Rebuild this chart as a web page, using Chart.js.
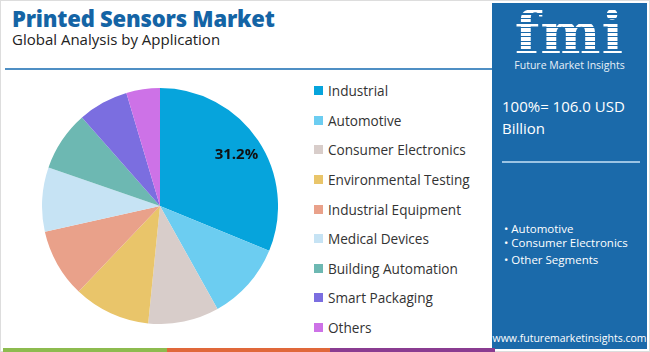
<!DOCTYPE html>
<html>
<head>
<meta charset="utf-8">
<script src="https://cdn.jsdelivr.net/npm/chart.js@4.4.1/dist/chart.umd.min.js"></script>
<style>
  html,body{margin:0;padding:0;}
  body{width:650px;height:352px;position:relative;overflow:hidden;background:#fff;font-family:"Open Sans",sans-serif;}
  #frame{position:absolute;left:0;top:0;width:648px;height:350px;border:1px solid #ddd;}
  #title{position:absolute;left:12px;top:3px;font-family:"Open Sans",sans-serif;font-weight:800;font-size:22px;color:#1464a5;letter-spacing:-0.2px;white-space:nowrap;}
  #subtitle{position:absolute;left:12px;top:29px;font-size:15px;color:#222;white-space:nowrap;}
  #hline{position:absolute;left:5px;top:68px;width:487px;height:2px;background:#4f8fc4;}
  #panel{position:absolute;left:492px;top:3px;width:155px;height:346px;background:#1b6aaa;color:#fff;}
  #logo{position:absolute;left:0;top:3px;width:155px;text-align:center;font-family:"DejaVu Serif",serif;font-weight:bold;font-size:57px;line-height:54px;color:#fff;letter-spacing:1px;
        background:repeating-linear-gradient(180deg,#fff 0 3px,#1b6aaa 3px 4.5px);-webkit-background-clip:text;background-clip:text;-webkit-text-fill-color:transparent;}
  #logosub{position:absolute;left:0;top:55px;width:155px;text-align:center;font-size:10.5px;color:#e8f0f8;}
  #total{position:absolute;left:10px;top:92px;font-size:15px;line-height:22px;color:#fff;}
  #pline{position:absolute;left:10px;top:158px;width:138px;height:2px;background:#9cc4e4;}
  #bullets{position:absolute;left:12px;top:219px;font-size:11.5px;line-height:14px;color:#fff;}
  #bullets div{margin-bottom:0;}
  #url{position:absolute;left:0;top:328px;width:155px;text-align:center;font-size:10.5px;color:#fff;}
  #chartbox{position:absolute;left:42px;top:88px;width:236px;height:236px;}
  #legend{position:absolute;left:314px;top:76px;font-size:13.6px;color:#333;}
  .li{height:29.6px;display:flex;align-items:center;white-space:nowrap;}
  .sw{width:9px;height:9px;margin-right:5px;}
  .bar{position:absolute;top:348px;height:4px;}
</style>
</head>
<body>
<div id="frame"></div>
<div id="title">Printed Sensors Market</div>
<div id="subtitle">Global Analysis by Application</div>
<div id="hline"></div>
<div id="chartbox"><canvas id="c" width="236" height="236"></canvas></div>
<div id="legend"></div>
<div id="panel">
  <div id="logo">fmi</div>
  <div id="logosub">Future Market Insights</div>
  <div id="total">100%= 106.0 USD<br>Billion</div>
  <div id="pline"></div>
  <div id="bullets">
    <div>• Automotive</div>
    <div>• Consumer Electronics</div>
    <div style="margin-top:3px">• Other Segments</div>
  </div>
  <div id="url">www.futuremarketinsights.com</div>
</div>
<div class="bar" style="left:3px;width:164px;background:#8dbb4f"></div>
<div class="bar" style="left:167px;width:163px;background:#e0683a"></div>
<div class="bar" style="left:330px;width:165px;background:#8a3c91"></div>
<script>
const categories = ["Industrial","Automotive","Consumer Electronics","Environmental Testing","Industrial Equipment","Medical Devices","Building Automation","Smart Packaging","Others"];
const shares = [31.2,10.7,9.7,10.5,9.4,8.8,8.2,6.9,4.6];
const colors = ["#06a4dc","#6ccdf1","#d8cdca","#e9c56a","#e9a18a","#c6e3f4","#6db8b2","#7b6ee0","#cd72e7"];
const labelled = ["31.2%","","","","","","","",""];

const legend = document.getElementById('legend');
categories.forEach((c,i)=>{
  const d=document.createElement('div');d.className='li';
  d.innerHTML='<span class="sw" style="background:'+colors[i]+'"></span>'+c;
  legend.appendChild(d);
});

const sliceLabels = {
  id:'sliceLabels',
  afterDatasetsDraw(chart){
    const ctx=chart.ctx;
    const meta=chart.getDatasetMeta(0);
    meta.data.forEach((arc,i)=>{
      if(!labelled[i]) return;
      const p=arc.getProps(['x','y','startAngle','endAngle','outerRadius'],true);
      const mid=(p.startAngle+p.endAngle)/2;
      const r=p.outerRadius*0.78;
      ctx.save();
      ctx.font='bold 15px "Open Sans", sans-serif';
      ctx.fillStyle='#111';
      ctx.textAlign='center';ctx.textBaseline='middle';
      ctx.fillText(labelled[i],p.x+Math.cos(mid)*r,p.y+Math.sin(mid)*r);
      ctx.restore();
    });
  }
};

new Chart(document.getElementById('c'),{
  type:'pie',
  data:{labels:categories,datasets:[{data:shares,backgroundColor:colors,borderWidth:0}]},
  options:{
    responsive:false,animation:false,
    layout:{padding:0},
    plugins:{legend:{display:false},tooltip:{enabled:false}}
  },
  plugins:[sliceLabels]
});
</script>
</body>
</html>
